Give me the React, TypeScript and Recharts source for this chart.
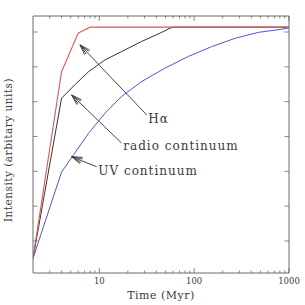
import React from 'react';
import { LineChart, Line, XAxis, YAxis, ReferenceLine, ReferenceDot } from 'recharts';

// ---- data ----
const halphaTime = [2, 4, 6, 8, 1000];
const halphaValue = [0.5, 5.86, 6.97, 7.14, 7.14];

const radioTime = [2, 4, 5.5, 7.7, 11.5, 17.2, 28, 45.5, 55.6, 60, 1000];
const radioValue = [0.5, 5.1, 5.48, 5.86, 6.2, 6.44, 6.73, 6.99, 7.11, 7.14, 7.14];

const uvTime = [2, 4, 5.5, 7.7, 11.5, 17.2, 28, 49, 87, 153, 270, 474, 837, 1000];
const uvValue = [0.5, 2.98, 3.52, 4.09, 4.67, 5.15, 5.58, 5.96, 6.3, 6.58, 6.82, 6.99, 7.08, 7.12];

const xMajorTicks = [10, 100, 1000];
const xAllTicks = [3, 4, 5, 6, 7, 8, 9, 10, 20, 30, 40, 50, 60, 70, 80, 90, 100, 200, 300, 400, 500, 600, 700, 800, 900, 1000];
const yTicks = [1, 2, 3, 4, 5, 6, 7];
const xDomain = [2, 1000];
const yDomain = [0.08, 7.46];

const labels = ['Hα', 'radio continuum', 'UV continuum'];
const labelTime = [32.9, 17.9, 9.77];
const labelValue = [4.51, 3.73, 3.01];
const arrowTailTime = [31.6, 17.2, 9.4];
const arrowTailValue = [4.62, 3.81, 3.13];
const arrowTipTime = [6.26, 5.12, 5.12];
const arrowTipValue = [6.63, 5.19, 3.42];

const xLabel = 'Time (Myr)';
const yLabel = 'Intensity (arbitary units)';

const toSeries = (t: number[], v: number[]) => t.map((x, i) => ({ x, y: v[i] }));
const halpha = toSeries(halphaTime, halphaValue);
const radio = toSeries(radioTime, radioValue);
const uv = toSeries(uvTime, uvValue);

const axisColor = '#6a6a6a';
const textColor = '#3a3a3a';
const font = 'DejaVu Serif';

const isMajor = (v: number) => xMajorTicks.includes(v);

const BottomTick = (props: any) => {
  const { x, y, payload } = props;
  const v = payload.value;
  const len = isMajor(v) ? 5 : 2.5;
  return (
    <g>
      <line x1={x} y1={y} x2={x} y2={y - len} stroke={axisColor} strokeWidth={0.8} />
      {isMajor(v) && (
        <text x={x} y={y + 10.5} textAnchor="middle" fontSize={8.5} fontFamily={font} fill={textColor}>
          {v}
        </text>
      )}
    </g>
  );
};

const TopTick = (props: any) => {
  const { x, y, payload } = props;
  const len = isMajor(payload.value) ? 5 : 2.5;
  return <line x1={x} y1={y} x2={x} y2={y + len} stroke={axisColor} strokeWidth={0.8} />;
};

const LeftTick = (props: any) => {
  const { x, y } = props;
  return <line x1={x} y1={y} x2={x + 4.5} y2={y} stroke={axisColor} strokeWidth={0.8} />;
};

const RightTick = (props: any) => {
  const { x, y } = props;
  return <line x1={x} y1={y} x2={x - 4.5} y2={y} stroke={axisColor} strokeWidth={0.8} />;
};

const Arrow = (p: any) => {
  const { x1, y1, x2, y2 } = p;
  const ang = Math.atan2(y1 - y2, x1 - x2);
  const L = 11;
  const pt = (a: number) => `${x2 + L * Math.cos(a)},${y2 + L * Math.sin(a)}`;
  return (
    <g stroke="#333" strokeWidth={0.9} fill="none">
      <line x1={x1} y1={y1} x2={x2} y2={y2} />
      <path d={`M${pt(ang + 0.32)} L${x2},${y2} L${pt(ang - 0.32)}`} />
      <path d={`M${pt(ang + 0.17)} L${x2},${y2} L${pt(ang - 0.17)}`} />
    </g>
  );
};

export default function App() {
  return (
    <div style={{ position: 'absolute', left: 0, top: 0 }}>
      <LineChart width={305} height={305} margin={{ top: 0, right: 0, bottom: 0, left: 0 }}>
        <XAxis
          dataKey="x"
          type="number"
          scale="log"
          domain={xDomain}
          allowDataOverflow
          ticks={xAllTicks}
          interval={0}
          tickSize={0}
          tickMargin={0}
          height={32}
          stroke={axisColor}
          tick={<BottomTick />}
          label={{ value: xLabel, position: 'insideBottom', offset: 6, fontSize: 11, fontFamily: font, fill: textColor, style: { letterSpacing: 0.5 } }}
        />
        <XAxis
          xAxisId="top"
          orientation="top"
          dataKey="x"
          type="number"
          scale="log"
          domain={xDomain}
          allowDataOverflow
          ticks={xAllTicks}
          interval={0}
          tickSize={0}
          tickMargin={0}
          height={16}
          stroke={axisColor}
          tick={<TopTick />}
        />
        <YAxis
          type="number"
          domain={yDomain}
          allowDataOverflow
          ticks={yTicks}
          interval={0}
          tickSize={0}
          tickMargin={0}
          width={33}
          stroke={axisColor}
          tick={<LeftTick />}
          label={{ value: yLabel, angle: -90, position: { x: 12, y: 134 }, fontSize: 10.5, fontFamily: font, fill: textColor, style: { textAnchor: 'middle', letterSpacing: 0.5 } }}
        />
        <YAxis
          yAxisId="right"
          orientation="right"
          type="number"
          domain={yDomain}
          allowDataOverflow
          ticks={yTicks}
          interval={0}
          tickSize={0}
          tickMargin={0}
          width={16}
          stroke={axisColor}
          tick={<RightTick />}
        />
        <Line data={uv} dataKey="y" type="linear" stroke="#5252dc" strokeWidth={1} dot={false} isAnimationActive={false} />
        <Line data={radio} dataKey="y" type="linear" stroke="#333333" strokeWidth={1} dot={false} isAnimationActive={false} />
        <Line data={halpha} dataKey="y" type="linear" stroke="#e25456" strokeWidth={1.1} dot={false} isAnimationActive={false} />
        {labels.map((l, i) => (
          <ReferenceLine
            key={'a' + i}
            segment={[
              { x: arrowTailTime[i], y: arrowTailValue[i] },
              { x: arrowTipTime[i], y: arrowTipValue[i] },
            ]}
            shape={<Arrow />}
          />
        ))}
        {labels.map((l, i) => (
          <ReferenceDot
            key={'l' + i}
            x={labelTime[i]}
            y={labelValue[i]}
            r={0}
            stroke="none"
            fill="none"
            label={{ value: l, position: 'right', offset: 0, fontSize: 12, fontFamily: font, fill: textColor, style: { letterSpacing: 1 } }}
          />
        ))}
      </LineChart>
    </div>
  );
}
